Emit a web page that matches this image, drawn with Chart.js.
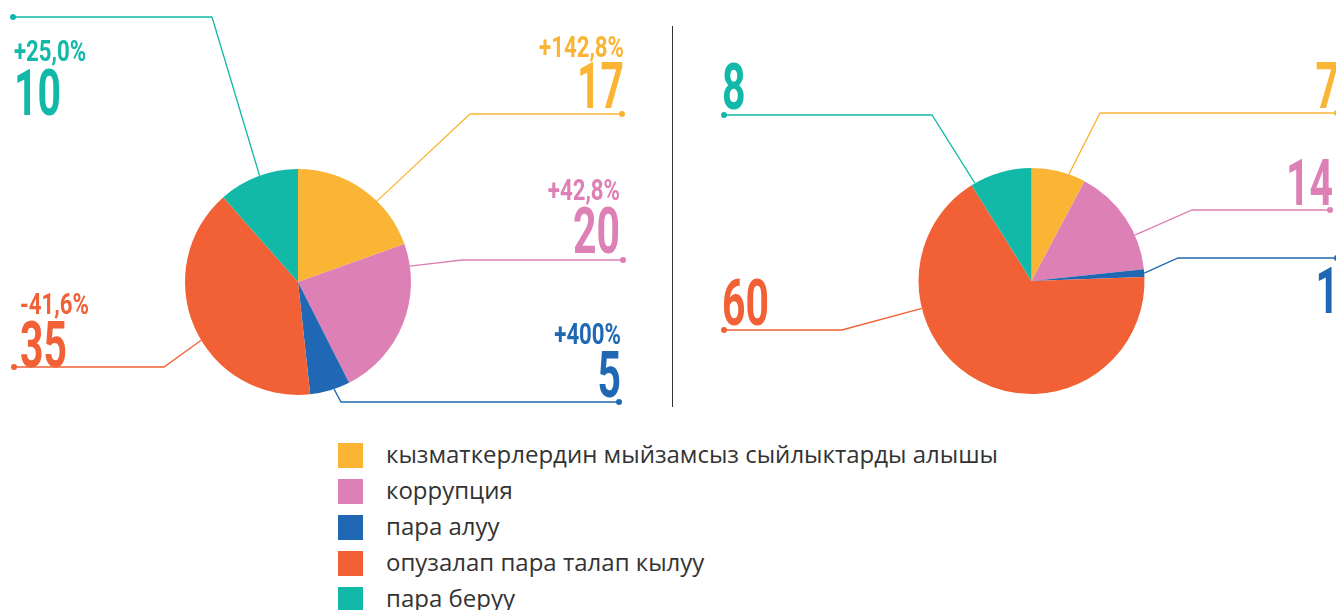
<!DOCTYPE html>
<html>
<head>
<meta charset="utf-8">
<script src="https://cdn.jsdelivr.net/npm/chart.js@4.4.1/dist/chart.umd.min.js"></script>
<style>
  body { margin: 0; background: #fff; width: 1336px; height: 610px; overflow: hidden; position: relative; font-family: "Open Sans", sans-serif; }
  canvas { position: absolute; top: 0; }
  #leftPie { left: 0; }
  #rightPie { left: 668px; }
  #divider { position: absolute; left: 672px; top: 26px; width: 1px; height: 381px; background: #333; }
  #legend { position: absolute; left: 338px; top: 443px; margin: 0; padding: 0; list-style: none; }
  #legend li { display: flex; align-items: center; height: 25px; margin-bottom: 11px; font-size: 24px; color: #333; white-space: nowrap; }
  #legend li div { margin-top: -4px; }
  #legend span { width: 25px; height: 25px; margin-right: 23px; flex: none; }
</style>
</head>
<body>
<canvas id="leftPie" width="668" height="420"></canvas>
<div id="divider"></div>
<canvas id="rightPie" width="668" height="420"></canvas>
<ul id="legend"></ul>
<script>
// data
const categories = [
  'кызматкерлердин мыйзамсыз сыйлыктарды алышы',
  'коррупция',
  'пара алуу',
  'опузалап пара талап кылуу',
  'пара беруу'
];
const currentValues = [17, 20, 5, 35, 10];
const previousValues = [7, 14, 1, 60, 8];
const changeLabels = ['+142,8%', '+42,8%', '+400%', '-41,6%', '+25,0%'];
const colors = ['#FBB534', '#DD80B5', '#2068B3', '#F16135', '#12B9A8'];

// callout layout (page coords): where the leader hits the slice, dot, elbow, text
const leftCallouts = [
  { frac: 0.63, dot: [622, 114], elbow: 470, align: 'right', tx: 624, pctY: 57, numY: 108 },
  { frac: 0.14, dot: [623, 260], elbow: 462, align: 'right', tx: 620, pctY: 200, numY: 253 },
  { frac: 0.40, dot: [619, 402], elbow: 341, align: 'right', tx: 621, pctY: 344, numY: 397 },
  { frac: 0.45, dot: [14, 367], elbow: 164, align: 'left', tx: 20, pctY: 314, numY: 367 },
  { frac: 0.52, dot: [13, 17], elbow: 212, align: 'left', tx: 14, pctY: 61, numY: 115 }
];
const rightCallouts = [
  { frac: 0.69, dot: [1337, 113], elbow: 1100, align: 'right', tx: 1339, numY: 108 },
  { frac: 0.68, dot: [1330, 210], elbow: 1192, align: 'right', tx: 1333, numY: 205 },
  { frac: 0.50, dot: [1337, 258], elbow: 1178, align: 'right', tx: 1339, numY: 313 },
  { frac: 0.70, dot: [724, 330], elbow: 842, align: 'left', tx: 722, numY: 325 },
  { frac: 0.06, dot: [724, 115], elbow: 932, align: 'left', tx: 722, numY: 109 }
];

const NUM_FONT = 'bold 64px Roboto, sans-serif';
const PCT_FONT = 'bold 30px Roboto, sans-serif';

function drawText(ctx, text, x, y, font, align, sx) {
  ctx.save();
  ctx.translate(x, y);
  ctx.scale(sx, 1);
  ctx.font = font;
  ctx.textAlign = align;
  ctx.textBaseline = 'alphabetic';
  ctx.fillText(text, 0, 0);
  ctx.restore();
}

const calloutPlugin = {
  id: 'callouts',
  afterDraw(chart, args, opts) {
    const ctx = chart.ctx;
    const meta = chart.getDatasetMeta(0);
    const values = chart.data.datasets[0].data;
    const shift = opts.shift;
    meta.data.forEach((arc, i) => {
      const c = opts.items[i];
      const color = colors[i];
      const a = arc.startAngle + c.frac * (arc.endAngle - arc.startAngle);
      const ex = arc.x + Math.cos(a) * arc.outerRadius;
      const ey = arc.y + Math.sin(a) * arc.outerRadius;
      const dx = c.dot[0] - shift, dy = c.dot[1];

      ctx.save();
      ctx.strokeStyle = color;
      ctx.fillStyle = color;
      ctx.lineWidth = 1.3;
      ctx.beginPath();
      ctx.moveTo(ex, ey);
      ctx.lineTo(c.elbow - shift, dy);
      ctx.lineTo(dx, dy);
      ctx.stroke();
      ctx.beginPath();
      ctx.arc(dx, dy, 3, 0, Math.PI * 2);
      ctx.fill();

      drawText(ctx, String(values[i]), c.tx - shift, c.numY, NUM_FONT, c.align, 0.64);
      if (opts.changes) {
        drawText(ctx, opts.changes[i], c.tx - shift, c.pctY, PCT_FONT, c.align, 0.74);
      }
      ctx.restore();
    });
  }
};

function makePie(id, values, pad, items, shift, changes) {
  return new Chart(document.getElementById(id), {
    type: 'pie',
    data: {
      labels: categories,
      datasets: [{ data: values, backgroundColor: colors, borderWidth: 0 }]
    },
    options: {
      responsive: false,
      animation: false,
      layout: { padding: pad },
      plugins: {
        legend: { display: false },
        tooltip: { enabled: false },
        callouts: { items: items, shift: shift, changes: changes }
      }
    },
    plugins: [calloutPlugin]
  });
}

makePie('leftPie', currentValues, { left: 185, right: 257, top: 169, bottom: 25 }, leftCallouts, 0, changeLabels);
makePie('rightPie', previousValues, { left: 250, right: 191, top: 168, bottom: 26 }, rightCallouts, 668, null);

// legend
const legend = document.getElementById('legend');
categories.forEach((name, i) => {
  const li = document.createElement('li');
  const sw = document.createElement('span');
  sw.style.background = colors[i];
  const txt = document.createElement('div');
  txt.textContent = name;
  li.appendChild(sw);
  li.appendChild(txt);
  legend.appendChild(li);
});
</script>
</body>
</html>
